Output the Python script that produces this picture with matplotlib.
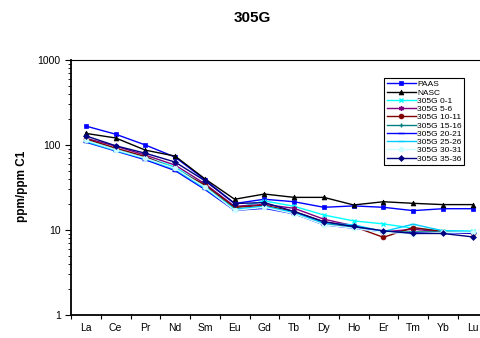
import numpy as np
import matplotlib
matplotlib.use("Agg")
import matplotlib.pyplot as plt
from matplotlib.ticker import LogLocator, NullFormatter, FixedLocator

plt.rcParams['font.family'] = ['Liberation Sans', 'DejaVu Sans']

elements = ["La", "Ce", "Pr", "Nd", "Sm", "Eu", "Gd", "Tb", "Dy", "Ho", "Er", "Tm", "Yb", "Lu"]

paas = [167, 134, 100, 72, 39, 20.5, 23, 21.5, 18.5, 19.2, 18.5, 16.9, 17.8, 17.8]
nasc = [137, 121, 87, 74, 40, 23, 26.5, 24.2, 24.2, 19.7, 21.5, 20.6, 19.9, 19.9]
s0_1 = [115, 90, 72, 55, 33, 18, 22, 19, 15, 12.8, 11.8, 10.5, 9.8, 9.7]
s5_6 = [120, 97, 76, 58, 35, 19, 20, 18, 13.4, 11.2, 9.5, 10.2, 9.5, 9.3]
s10_11 = [118, 92, 73, 52, 34, 18.5, 19.5, 16.5, 12.5, 11, 8.2, 10.7, 9.6, 9.1]
s15_16 = [112, 88, 70, 53, 32, 17.5, 19, 16, 12, 10.8, 9.5, 9.5, 9.5, 9.5]
s20_21 = [108, 85, 67, 50, 30, 17, 18, 15.5, 11.5, 10.5, 9.5, 9.2, 9.3, 9.2]
s25_26 = [110, 86, 69, 52, 31, 17.5, 19, 16, 12, 11.5, 9.6, 11.7, 9.8, 9.6]
s30_31 = [113, 88, 70, 53, 32, 17, 18.5, 15.5, 11.5, 10.5, 9.4, 9.0, 9.4, 9.4]
s35_36 = [128, 98, 80, 63, 38, 20.5, 21, 16.5, 12.5, 11, 9.8, 9.1, 9.1, 8.3]

series = [
    ("PAAS", paas, "#0000FF", "s"),
    ("NASC", nasc, "#000000", "^"),
    ("305G 0-1", s0_1, "#00FFFF", "x"),
    ("305G 5-6", s5_6, "#800080", (6, 2, 0)),
    ("305G 10-11", s10_11, "#800000", "o"),
    ("305G 15-16", s15_16, "#008080", "+"),
    ("305G 20-21", s20_21, "#0000FF", "_"),
    ("305G 25-26", s25_26, "#00CCFF", "_"),
    ("305G 30-31", s30_31, "#CCFFFF", "o"),
    ("305G 35-36", s35_36, "#000080", "D"),
]

fig = plt.figure(figsize=(4.8, 3.38), dpi=100)
# axes run past the right edge like the original export
ax = fig.add_axes([71/480, 1-315/338, 416.5/480, 255/338])

x = np.arange(len(elements))
for name, vals, col, mk in series:
    ms = 3.5
    if mk == "_":
        ms = 5
    if mk == "D":
        ms = 3
    ax.plot(x, vals, color=col, marker=mk, markersize=ms, linewidth=1.0,
            markeredgewidth=1.0 if mk in ["x", "+", "_", (6, 2, 0)] else 0.5,
            markeredgecolor=col, label=name)

ax.set_yscale("log")
ax.set_ylim(1, 1000)
ax.set_xlim(-0.5, len(elements)-0.5)

ax.set_xticks(x)
ax.set_xticklabels(elements, fontsize=7.5)
ax.xaxis.set_minor_locator(FixedLocator(np.arange(len(elements)+1)-0.5))
ax.tick_params(axis="x", which="major", length=0, pad=6)
ax.tick_params(axis="x", which="minor", length=3, width=0.8, direction="out")

ax.yaxis.set_minor_locator(LogLocator(base=10, subs=np.arange(2, 10), numticks=20))
ax.yaxis.set_minor_formatter(NullFormatter())
ax.set_yticks([1, 10, 100, 1000])
ax.set_yticklabels(["1", "10", "100", "1000"], fontsize=7.5)
ax.tick_params(axis="y", which="major", length=4, width=0.8, direction="out")
ax.tick_params(axis="y", which="minor", length=2, width=0.6, direction="out")

ax.spines["left"].set_linewidth(1.3)
ax.spines["bottom"].set_linewidth(1.3)
ax.spines["top"].set_linewidth(0.8)
ax.spines["right"].set_visible(False)

fig.text(252/480, 1-17.5/338, "305G", ha="center", va="center", fontsize=11, fontweight="bold")
fig.text(22/480, 1-186/338, "ppm/ppm C1", ha="center", va="center", rotation=90,
         fontsize=8.5, fontweight="bold")

leg = ax.legend(loc="upper left", bbox_to_anchor=((384-71)/416.5, (315-78)/255),
                fontsize=6, handlelength=3.5, labelspacing=0.05, borderpad=0.3,
                handletextpad=0.2, fancybox=False, framealpha=1, borderaxespad=0)
leg.get_frame().set_edgecolor("black")
leg.get_frame().set_linewidth(0.8)

fig.savefig("out.png", dpi=100)
